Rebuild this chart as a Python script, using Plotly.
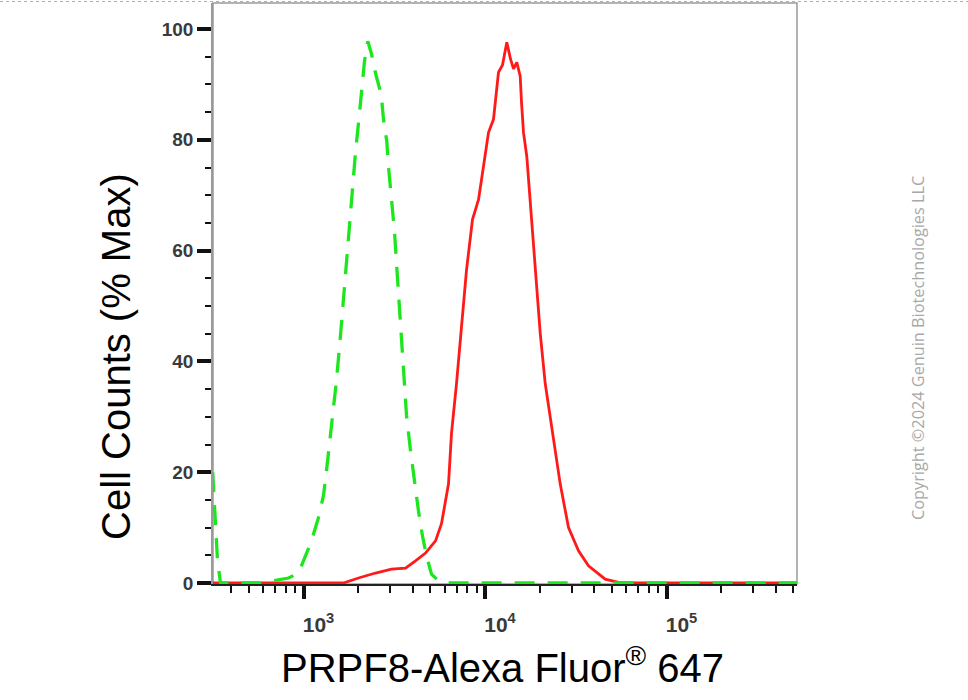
import plotly.graph_objects as go

# ---- data (fluorescence intensity, % of max) ----
sample_x = [315, 1661, 2009, 2493, 3053, 3648, 4141, 4701, 5338, 5758, 6295, 6537, 6966,
            7422, 7909, 8532, 9209, 9566, 10453, 11138, 11869, 12487, 13188, 13819, 14355,
            14970, 15630, 15890, 16300, 16994, 17745, 18905, 20145, 21467, 23335, 25963,
            28851, 32750, 37170, 45950, 54390, 67480, 524000]
sample_y = [0, 0, 0.9, 1.8, 2.5, 2.7, 4.0, 5.4, 7.6, 10.7, 17.9, 27, 36,
            45.7, 56.5, 65.6, 69.2, 72.8, 81.3, 83.7, 92.2, 93.5, 97.6, 94.6, 92.8,
            94, 91.5, 86.8, 81.3, 77, 69.2, 57.1, 45.1, 36, 28.1, 17.9,
            10, 5.8, 3.1, 0.7, 0.1, 0, 0]

control_x = [316, 327, 336, 349, 602, 683, 827, 939, 1000, 1107, 1209, 1289, 1339, 1427,
             1520, 1599, 1682, 1748, 1839, 1934, 2053, 2168, 2261, 2370, 2502, 2681, 2759,
             2877, 2939, 3053, 3172, 3295, 3422, 3556, 3694, 3886, 4089, 4301, 4524, 4761,
             5073, 5542, 5984, 524000]
control_y = [20, 11, 4, 0, 0, 0.4, 0.9, 1.8, 4, 7.6, 11.8, 15.8, 20.3, 28.1,
             36.6, 44.7, 53.3, 61.4, 69.7, 77.7, 86.1, 94.2, 97.8, 95.5, 91.8, 88.2, 83.7,
             79.7, 75.2, 69.2, 63.4, 55.1, 46.9, 38.4, 30.3, 23.9, 17.9, 13, 8.5, 4.9,
             1.6, 0.4, 0, 0]

x_major_vals = [1000, 10000, 100000]
x_major_text = ["10<sup>3</sup>", "10<sup>4</sup>", "10<sup>5</sup>"]
x_minor_vals = [400, 500, 600, 700, 800, 900,
                2000, 3000, 4000, 5000, 6000, 7000, 8000, 9000,
                20000, 30000, 40000, 50000, 60000, 70000, 80000, 90000,
                200000, 300000, 400000, 500000]
y_major_vals = [0, 20, 40, 60, 80, 100]

x_title = "PRPF8-Alexa Fluor<sup>®</sup> 647"
y_title = "Cell Counts (% Max)"
watermark = "Copyright ©2024 Genuin Biotechnologies LLC"

# plot-area geometry (pixels) used to place free annotations
L, R, T, B = 213, 797, 3, 584
PW, PH = R - L, B - T

fig = go.Figure()
fig.add_trace(go.Scatter(x=sample_x, y=sample_y, mode="lines",
                         line=dict(color="#ff1a1a", width=2.8), showlegend=False))
fig.add_trace(go.Scatter(x=control_x, y=control_y, mode="lines",
                         line=dict(color="#1ee61e", width=3.3, dash="20px,13px"),
                         showlegend=False))

y_tick_font = dict(family="Liberation Sans, Arial", size=19, color="#3a3a3a", weight="bold")
x_tick_font = dict(family="Liberation Sans, Arial", size=21, color="#3a3a3a", weight="bold")

fig.update_layout(
    width=968, height=700,
    margin=dict(l=L, r=968 - R, t=T, b=700 - B),
    paper_bgcolor="white", plot_bgcolor="white",
    font=dict(family="Liberation Sans, Arial, sans-serif", color="#111"),
    shapes=[
        dict(type="rect", xref="paper", yref="paper", x0=0, x1=1, y0=0, y1=1,
             line=dict(color="#9a9a9a", width=1.5), layer="below"),
        dict(type="line", xref="paper", yref="paper", x0=-L / PW, x1=(968 - L) / PW,
             y0=1 + 1.5 / PH, y1=1 + 1.5 / PH,
             line=dict(color="#b0b0b0", width=1, dash="dot")),
    ],
    annotations=[
        dict(text=x_title, xref="paper", yref="paper", x=(502 - L) / PW,
             y=(B - 665) / PH, showarrow=False,
             font=dict(size=40, color="#000"), xanchor="center", yanchor="middle"),
        dict(text=y_title, xref="paper", yref="paper", x=(116 - L) / PW,
             y=(B - 357) / PH, showarrow=False, textangle=-90,
             font=dict(size=40, color="#000"), xanchor="center", yanchor="middle"),
        dict(text=watermark, xref="paper", yref="paper", x=(918 - L) / PW,
             y=(B - 348) / PH, showarrow=False, textangle=-90,
             font=dict(family="Open Sans, Noto Sans, sans-serif", size=16.3, color="#a8a8a8"),
             xanchor="center", yanchor="middle"),
    ],
)

fig.update_xaxes(
    type="log", range=[2.5014, 5.719],
    tickmode="array", tickvals=x_major_vals, ticktext=x_major_text,
    ticks="outside", ticklen=13, tickwidth=3.5, tickcolor="#111",
    tickfont=x_tick_font, ticklabelshift=15, ticklabelstandoff=8,
    minor=dict(tickmode="array", tickvals=x_minor_vals, ticks="outside",
               ticklen=7, tickwidth=2, tickcolor="#111"),
    showline=True, linecolor="#222", linewidth=2,
    showgrid=False, zeroline=False,
)
fig.update_yaxes(
    range=[-0.18, 104.7],
    tickmode="array", tickvals=y_major_vals,
    ticks="outside", ticklen=14, tickwidth=3.5, tickcolor="#111",
    tickfont=y_tick_font,
    minor=dict(dtick=5, ticks="outside", ticklen=6, tickwidth=2, tickcolor="#111"),
    showline=True, linecolor="#9a9a9a", linewidth=1.5,
    showgrid=False, zeroline=False,
)

fig.write_html("out.html", config={"displayModeBar": False},
               post_script="document.body.style.margin='0px';")
